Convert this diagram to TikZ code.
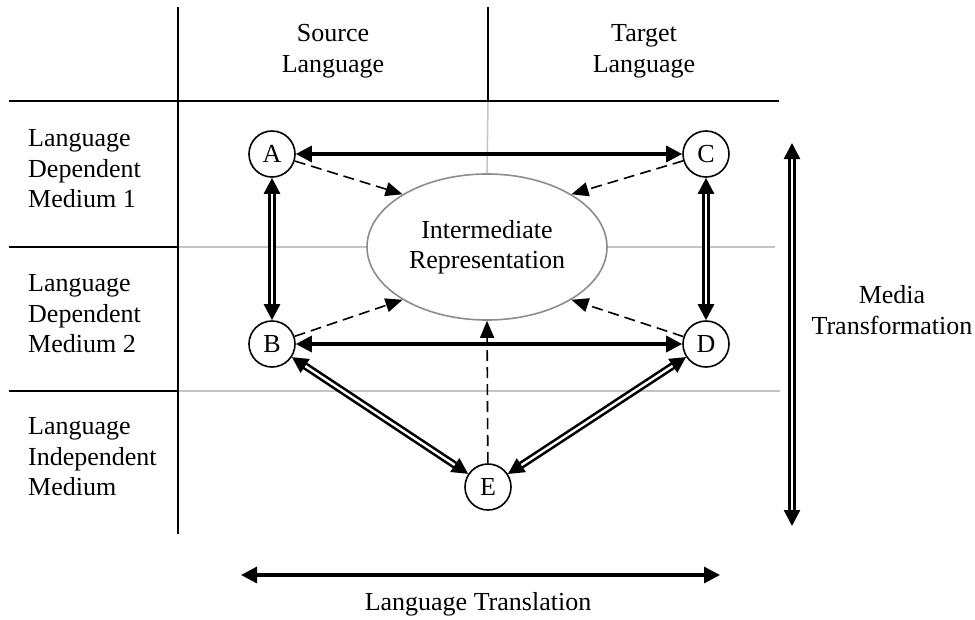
\documentclass[tikz,border=0pt]{standalone}
\usepackage{fontspec}
\setmainfont{Liberation Serif}
\usetikzlibrary{arrows.meta,shapes.geometric}
\definecolor{ellgray}{HTML}{8C8C8C}
\definecolor{gridgray}{HTML}{C4C4C4}
\begin{document}
\begin{tikzpicture}[x=1pt,y=-1pt,
  every node/.style={font=\fontsize{26}{30.5}\selectfont, inner sep=0pt},
  circ/.style={circle, draw, line width=1.6pt, minimum size=46pt, fill=white},
  thickarrow/.style={line width=3.2pt, {Triangle[length=16pt,width=16pt]}-{Triangle[length=16pt,width=16pt]}},
  dblarrow/.style={line width=2.6pt, double=white, double distance=2.4pt, {Triangle[length=16pt,width=16pt]}-{Triangle[length=16pt,width=16pt]}},
  dasharrow/.style={line width=1.6pt, dash pattern=on 11pt off 6pt, -{Triangle[length=17pt,width=14pt]}},
  gridblack/.style={line width=2pt, line cap=rect},
  gridgrayline/.style={line width=1.5pt, draw=gridgray}]
\useasboundingbox (0,0) rectangle (975,619);

% intermediate representation
\node[ellipse, draw=ellgray, line width=1.6pt, minimum width=240pt, minimum height=146pt, align=center] (I) at (487,247) {Intermediate\\Representation};

% gray grid lines
\draw[gridgrayline] (178,247) -- (I.west);
\draw[gridgrayline] (I.east) -- (775,247);
\draw[gridgrayline] (178,391) -- (780,391);
\draw[gridgrayline] (488,102) -- (I.north);

% black table lines
\draw[gridblack] (178,8) -- (178,533);
\draw[gridblack] (488,8) -- (488,101);
\draw[gridblack] (10,101) -- (778,101);
\draw[gridblack] (10,247) -- (178,247);
\draw[gridblack] (10,391) -- (178,391);

% circles
\node[circ] (A) at (272,154) {A};
\node[circ] (B) at (272,344) {B};
\node[circ] (C) at (706,154) {C};
\node[circ] (D) at (706,344) {D};
\node[circ] (E) at (488,487) {E};

% dashed arrows to the intermediate representation
\draw[dasharrow] (A) -- (I.148);
\draw[dasharrow] (C) -- (I.32);
\draw[dasharrow] (B) -- (I.212);
\draw[dasharrow] (D) -- (I.328);
\draw[dasharrow] (E) -- (I.south);

% solid arrows
\draw[thickarrow] (A) -- (C);
\draw[thickarrow] (B) -- (D);
\draw[dblarrow] (A) -- (B);
\draw[dblarrow] (C) -- (D);
\draw[dblarrow] (B) -- (E);
\draw[dblarrow] (D) -- (E);

% media transformation and language translation
\coordinate (mt1) at (792,143);
\coordinate (mt2) at (792,526);
\draw[dblarrow] (mt1) -- (mt2);
\coordinate (lt1) at (241,575);
\coordinate (lt2) at (720,575);
\draw[thickarrow] (lt1) -- (lt2);

% labels
\node[align=center] (src) at (333,51.3) {Source\\Language};
\node[align=center] (tgt) at (644,51.4) {Target\\Language};
\node[align=left, anchor=west] (r1) at (28,169) {Language\\Dependent\\Medium 1};
\node[align=left, anchor=west] (r2) at (28,314) {Language\\Dependent\\Medium 2};
\node[align=left, anchor=west] (r3) at (28,457) {Language\\Independent\\Medium};
\node[align=center] (mtl) at (892,310) {Media\\Transformation};
\node[anchor=base] (ltl) at (478,610) {Language Translation};
\end{tikzpicture}
\end{document}
